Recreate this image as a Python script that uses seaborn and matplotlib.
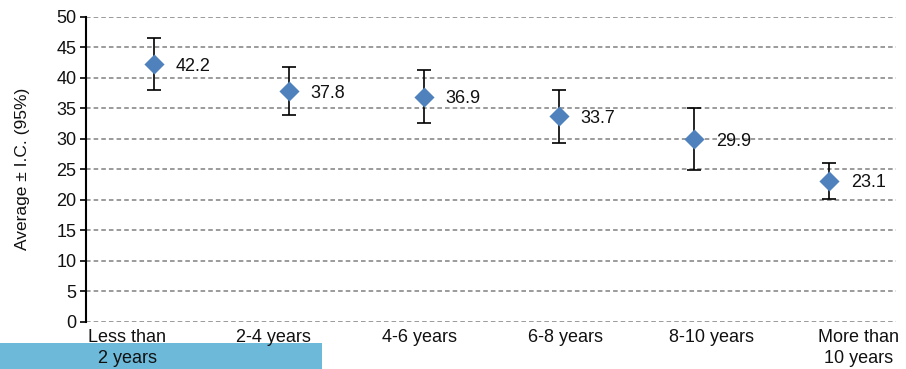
import matplotlib
matplotlib.use("Agg")
import matplotlib.pyplot as plt
import seaborn as sns
import pandas as pd
from matplotlib.patches import Rectangle

categories = ["Less than\n2 years", "2-4 years", "4-6 years", "6-8 years", "8-10 years", "More than\n10 years"]
means = [42.2, 37.8, 36.9, 33.7, 29.9, 23.1]
upper = [46.4, 41.8, 41.3, 38.0, 35.1, 26.0]
lower = [38.0, 33.8, 32.5, 29.3, 24.8, 20.2]
labels = ["42.2", "37.8", "36.9", "33.7", "29.9", "23.1"]

sns.set_theme(style="white")
plt.rcParams['font.family'] = ['Liberation Sans', 'DejaVu Sans']

df = pd.DataFrame({"cat": categories, "mean": means, "lo": lower, "hi": upper})
df["x"] = range(len(df))

fig = plt.figure(figsize=(9.06, 3.69), dpi=100)
ax = fig.add_axes([86/906, 1 - 322/369, (896-86)/906, (322-16.5)/369])

yerr = [[m - l for m, l in zip(means, lower)], [h - m for h, m in zip(upper, means)]]
ax.errorbar(df["x"], df["mean"], yerr=yerr, fmt="none", ecolor="black",
            elinewidth=1.2, capsize=5, capthick=1.2, zorder=2)
sns.scatterplot(data=df, x="x", y="mean", marker="D", s=105, color="#4F81BD",
                edgecolor="#4F81BD", linewidth=0, ax=ax, zorder=3)

for xi, m, t in zip(df["x"], means, labels):
    ax.annotate(t, (xi, m), xytext=(16, -1.5), textcoords="offset points",
                ha="left", va="center", fontsize=13, color="#111111")

ax.set_xlim(-0.5, 5.5)
ax.set_ylim(0, 50)
ax.set_yticks(range(0, 51, 5))
# category labels in the source are spread slightly wider than the markers
label_start, label_step = -0.196, 1.083
ax.set_xticks([label_start + i * label_step for i in range(len(categories))])
ax.set_xticklabels(categories, fontsize=13, color="#111111", linespacing=1.3)
ax.tick_params(axis="y", labelsize=13, labelcolor="#111111", length=4, width=1.2,
               direction="out", left=True, color="black", pad=3)
ax.tick_params(axis="x", length=0, pad=5)
ax.yaxis.grid(True, linestyle=(0, (3, 2)), color="#808080", linewidth=1.1)
ax.set_axisbelow(True)
for s in ["top", "right", "bottom"]:
    ax.spines[s].set_visible(False)
ax.spines["left"].set_color("black")
ax.spines["left"].set_linewidth(1.5)
ax.set_xlabel("")
ax.set_ylabel("Average ± I.C. (95%)", fontsize=12.5, color="#111111", labelpad=19)

fig.patches.append(Rectangle((0, 0), 322/906, 26/369, transform=fig.transFigure,
                             facecolor="#6CB9D9", edgecolor="none", zorder=-1))

fig.savefig("out.png", dpi=100)
